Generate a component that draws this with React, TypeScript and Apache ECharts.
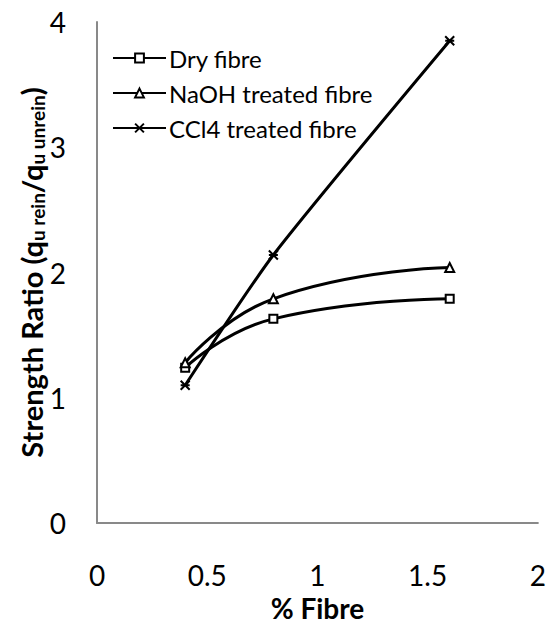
import React, { useEffect, useRef } from "react";
import * as echarts from "echarts";

const seriesNames = ["Dry fibre", "NaOH treated fibre", "CCl4 treated fibre"];
const fibrePct = [0.4, 0.8, 1.6];
const dryValues = [1.24, 1.63, 1.79];
const naohValues = [1.28, 1.79, 2.04];
const ccl4Values = [1.1, 2.14, 3.85];
const xTicks = [0, 0.5, 1, 1.5, 2];
const yTicks = [0, 1, 2, 3, 4];

const FONT = "Lato, 'Open Sans', sans-serif";
const CROSS = "path://M0,0L10,10M10,0L0,10M0,5L10,5";

export default function App() {
  const ref = useRef<HTMLDivElement>(null);
  useEffect(() => {
    if (!ref.current) return;
    const chart = echarts.init(ref.current, null, { renderer: "svg" });
    const mk = (vals: number[]) => fibrePct.map((x, i) => [x, vals[i]]);
    const lineStyle = { color: "#000", width: 3 };
    chart.setOption({
      animation: false,
      backgroundColor: "#fff",
      textStyle: { fontFamily: FONT },
      grid: { left: 97, top: 22, right: 9, bottom: 105 },
      legend: {
        orient: "vertical",
        left: 107,
        top: 41,
        itemWidth: 53,
        itemHeight: 11,
        itemGap: 11,
        textStyle: { fontSize: 24, color: "#000", fontFamily: FONT, padding: [0, 0, 0, -2] },
        data: seriesNames,
      },
      xAxis: {
        type: "value",
        min: xTicks[0],
        max: xTicks[xTicks.length - 1],
        interval: 0.5,
        name: "% Fibre",
        nameLocation: "middle",
        nameGap: 66,
        nameTextStyle: { fontSize: 28, fontWeight: "bold", color: "#000", fontFamily: FONT },
        axisLine: { show: true, lineStyle: { color: "#898989", width: 2 } },
        axisTick: { show: false },
        splitLine: { show: false },
        axisLabel: { fontSize: 28, color: "#000", margin: 38, fontFamily: FONT },
      },
      yAxis: {
        type: "value",
        min: yTicks[0],
        max: yTicks[yTicks.length - 1],
        interval: 1,
        name: "{m|Strength Ratio (q}{s|u rein}{m|/q}{s|u unrein}{m|)}",
        nameLocation: "middle",
        nameRotate: 90,
        nameGap: 50,
        nameMoveOverlap: false,
        nameTextStyle: {
          color: "#000",
          fontFamily: FONT,
          rich: {
            m: { fontSize: 29, fontWeight: "bold", color: "#000", fontFamily: FONT },
            s: { fontSize: 19, fontWeight: "bold", color: "#000", fontFamily: FONT, padding: [12, 0, 0, 0] },
          },
        },
        axisLine: { show: true, lineStyle: { color: "#898989", width: 2 } },
        axisTick: { show: false },
        splitLine: { show: false },
        axisLabel: { fontSize: 28, color: "#000", margin: 31, fontFamily: FONT },
      },
      series: [
        {
          name: seriesNames[0],
          type: "line",
          smooth: 0.5,
          data: mk(dryValues),
          symbol: "rect",
          symbolSize: 8,
          lineStyle,
          itemStyle: { color: "#fff", borderColor: "#000", borderWidth: 2 },
        },
        {
          name: seriesNames[1],
          type: "line",
          smooth: 0.5,
          data: mk(naohValues),
          symbol: "triangle",
          symbolSize: 9,
          lineStyle,
          itemStyle: { color: "#fff", borderColor: "#000", borderWidth: 2 },
        },
        {
          name: seriesNames[2],
          type: "line",
          smooth: 0.2,
          data: mk(ccl4Values),
          symbol: CROSS,
          symbolSize: 9,
          lineStyle,
          itemStyle: { color: "#000", borderColor: "#000", borderWidth: 2 },
        },
      ],
    });
    return () => chart.dispose();
  }, []);
  return <div ref={ref} style={{ width: 549, height: 628, position: "absolute", left: 0, top: 0 }} />;
}
